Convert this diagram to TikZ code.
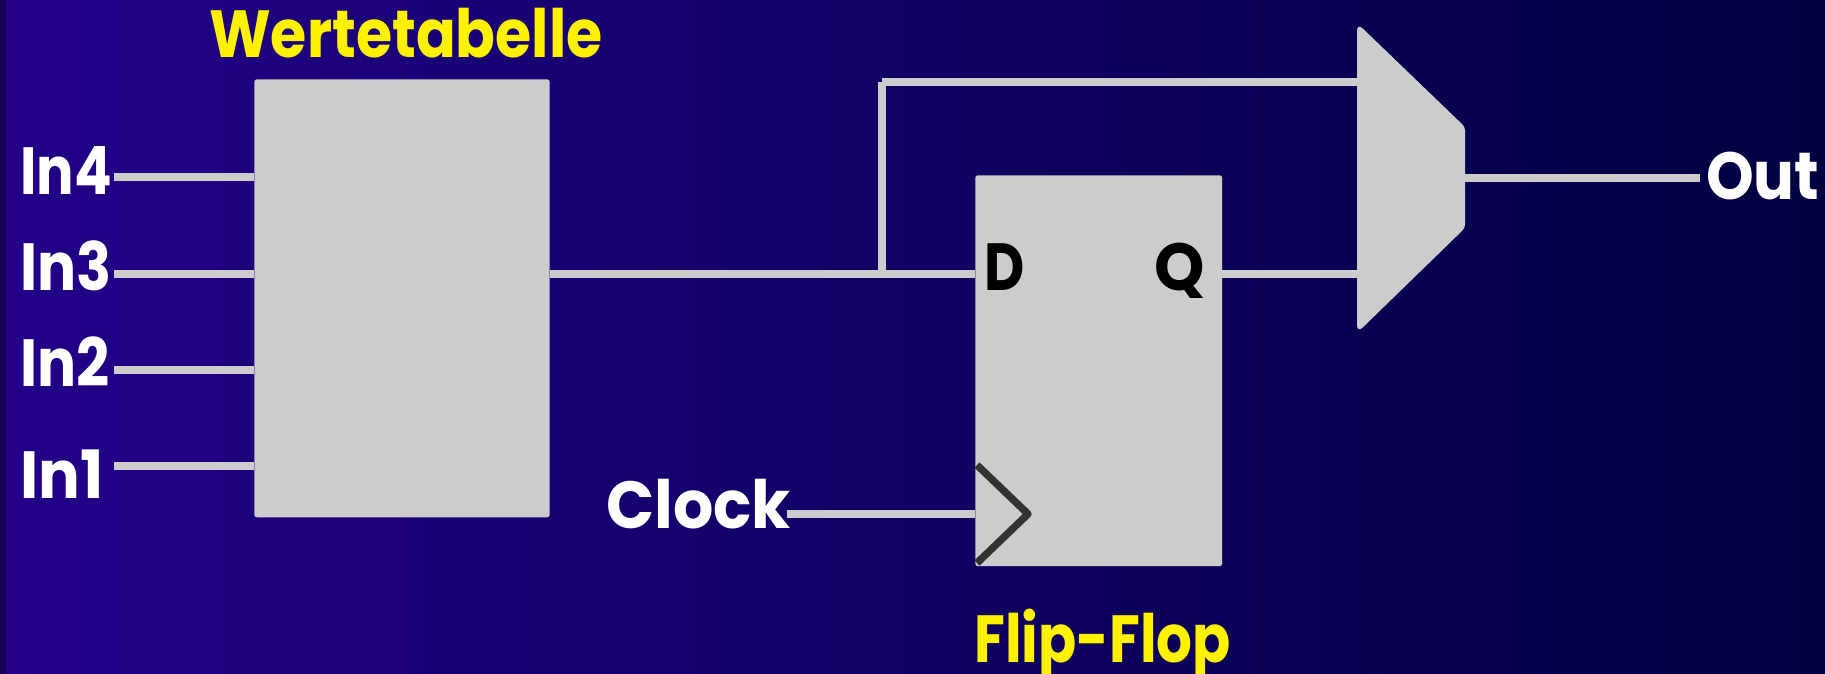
\documentclass[tikz,border=0pt]{standalone}
\usepackage{fontspec}
\setmainfont{Poppins}
\definecolor{bgleft}{HTML}{220088}
\definecolor{bgright}{HTML}{000040}
\definecolor{bgstrip}{HTML}{150050}
\definecolor{partgray}{HTML}{CCCCCC}
\definecolor{clockgray}{HTML}{333333}
\newcommand{\bigbold}{\fontsize{50}{50}\selectfont\bfseries}
\begin{document}
\begin{tikzpicture}[x=0.75pt,y=-0.75pt]
        \tikzstyle{part}=[fill=partgray,rounded corners=2pt,inner sep=0pt,anchor=north west]
        \tikzstyle{wire}=[draw=partgray,line width=6pt]
        \tikzstyle{inlabel}=[font=\bigbold\addfontfeature{FakeStretch=0.87},text=white,inner sep=0pt,anchor=base west]
        \tikzstyle{title}=[font=\bigbold,text=yellow,inner sep=0pt,anchor=base west]
        \tikzstyle{pin}=[font=\bigbold,text=black,inner sep=0pt,anchor=base west]
       \useasboundingbox (0,0) rectangle (1825,674);
       \fill[bgstrip] (0,0) rectangle (6,674);
       \shade[left color=bgleft,right color=bgright] (6,0) rectangle (1825,674);
       \begin{scope}
         % lookup table
         \node [part,minimum width=221.6pt,minimum height=328.5pt] (lut) at (254,79) {};
         \node [title,font=\bigbold\addfontfeature{FakeStretch=0.88}] (luttitle) at (209,58) {Wertetabelle};
         \node [inlabel,font=\bigbold\addfontfeature{FakeStretch=0.835}] (in4) at (20,194) {In4};
         \node [inlabel] (in3) at (20,290) {In3};
         \node [inlabel] (in2) at (20,386) {In2};
         \node [inlabel,font=\bigbold\addfontfeature{FakeStretch=0.93}] (in1) at (20,498) {In1};
         \coordinate (in4end) at (114,177);
         \coordinate (in3end) at (114,273.5);
         \coordinate (in2end) at (114,369.5);
         \coordinate (in1end) at (114,466);
         \path[wire] (in4end) edge (lut.west |- in4end);
         \path[wire] (in3end) edge (lut.west |- in3end);
         \path[wire] (in2end) edge (lut.west |- in2end);
         \path[wire] (in1end) edge (lut.west |- in1end);
         % flip-flop
         \node [part,minimum width=185.2pt,minimum height=293.2pt] (ff) at (975,175) {};
         \node [title,font=\bigbold\addfontfeature{FakeStretch=0.845}] (fftitle) at (974,662) {Flip-Flop};
         \node [pin,font=\bigbold\addfontfeature{FakeStretch=0.83}] (d) at (984,290) {D};
         \node [pin,font=\bigbold\addfontfeature{FakeStretch=0.96}] (q) at (1154,290) {Q};
         \node [inlabel,font=\bigbold\addfontfeature{FakeStretch=0.95}] (clock) at (606,528) {Clock};
         \coordinate (clockend) at (787,514);
         \coordinate (ticktop) at (977,465);
         \coordinate (tickapex) at (1028,514);
         \coordinate (tickbottom) at (977,563);
         \path[wire] (clockend) edge (ff.west |- clockend);
         \draw[clockgray,line width=5.5pt,line join=round] (ticktop) -- (tickapex) -- (tickbottom);
         % multiplexer
         \coordinate (muxtl) at (1357,23);
         \coordinate (muxtr) at (1465,127);
         \coordinate (muxbr) at (1465,228);
         \coordinate (muxbl) at (1357,333);
         \coordinate (muxleft) at (1357,178);
         \fill[partgray] (muxleft) [rounded corners=6pt] -- (muxtl) [rounded corners=2.5pt] -- (muxtr) -- (muxbr) [rounded corners=6pt] -- (muxbl) -- cycle;
         \coordinate (branch) at (882,273.5);
         \coordinate (corner) at (882,82);
         \path[wire] (lut.east |- branch) edge (ff.west |- branch);
         \path[wire] (branch) edge (corner);
         \path[wire] (corner) edge (muxtl |- corner);
         \path[wire] (ff.east |- branch) edge (muxtl |- branch);
         \node [inlabel,font=\bigbold\addfontfeature{FakeStretch=0.91}] (out) at (1706,199) {Out};
         \coordinate (outend) at (1700,178);
         \path[wire] (muxtr |- outend) edge (outend);
        \end{scope}
      \end{tikzpicture}
\end{document}
